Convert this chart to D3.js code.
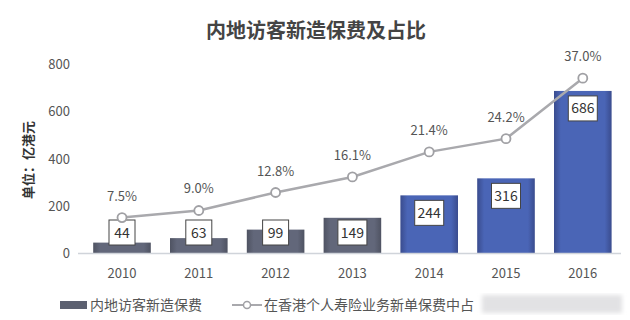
<!DOCTYPE html>
<html>
<head>
	<meta charset="utf-8"/>
	<script src="https://d3js.org/d3.v7.min.js"></script>
	<style>
		body{margin:0;background:#fff;}
		svg{display:block;font-family:"Noto Sans CJK SC","Noto Sans",sans-serif;}
	</style>
</head>
<body>
<script>
	// data
	var years = ["2010","2011","2012","2013","2014","2015","2016"];
	var premium = [44,63,99,149,244,316,686];          // 亿港元
	var share = [7.5,9.0,12.8,16.1,21.4,24.2,37.0];     // %
	var yTicks = [0,200,400,600,800];
	var blueFrom = "2014";

	var W=630,H=320;
	var svg=d3.select('body').append('svg')
		.attr('width',W)
		.attr('height',H);

	var defs=svg.append('defs');
	function grad(id,edge,mid){
		var g=defs.append('linearGradient').attr('id',id)
			.attr('x1','0%').attr('x2','100%').attr('y1','0%').attr('y2','0%');
		g.append('stop').attr('offset','0%').attr('stop-color',edge);
		g.append('stop').attr('offset','12%').attr('stop-color',mid);
		g.append('stop').attr('offset','88%').attr('stop-color',mid);
		g.append('stop').attr('offset','100%').attr('stop-color',edge);
	}
	grad('gGray','#4f5362','#62677a');
	grad('gBlue','#3a4c8e','#4a65b6');
	defs.append('filter').attr('id','blur')
		.append('feGaussianBlur').attr('stdDeviation',2);

	var x=d3.scaleBand().domain(years).range([83.6,621.2])
		.paddingInner(0.25).paddingOuter(0.125);
	var y=d3.scaleLinear().domain([0,800]).range([253,64]);
	var yr=d3.scaleLinear().domain([0,40]).range([253,64]);

	// title
	svg.append('text').attr('x',316).attr('y',38)
		.attr('text-anchor','middle')
		.attr('font-size',20).attr('font-weight','bold')
		.attr('fill','#444')
		.text('内地访客新造保费及占比');

	// y axis labels
	svg.selectAll('.ytick').data(yTicks).enter().append('text')
		.attr('class','ytick')
		.attr('x',70).attr('y',function(d){return y(d)+5;})
		.attr('text-anchor','end')
		.attr('font-size',13).attr('fill','#555')
		.text(function(d){return d;});

	svg.append('text')
		.attr('transform','translate(33,160) rotate(-90)')
		.attr('text-anchor','middle')
		.attr('font-size',13).attr('font-weight','bold').attr('fill','#333')
		.text('单位：亿港元');

	// bars
	svg.selectAll('rect.bar').data(premium).enter().append('rect')
		.attr('class','bar')
		.attr('x',function(d,i){return x(years[i]);})
		.attr('y',function(d){return y(d);})
		.attr('width',x.bandwidth())
		.attr('height',function(d){return y(0)-y(d);})
		.attr('fill',function(d,i){return years[i]>=blueFrom?'url(#gBlue)':'url(#gGray)';});

	// baseline
	svg.append('line').attr('x1',78).attr('x2',621)
		.attr('y1',y(0)+0.5).attr('y2',y(0)+0.5)
		.attr('stroke','#d0d4da').attr('stroke-width',1.5);

	// value boxes
	var boxes=svg.selectAll('g.vbox').data(premium).enter().append('g')
		.attr('class','vbox')
		.attr('transform',function(d,i){
			var w=String(d).length>2?29:26;
			var by=Math.min(y(d)+5,220);
			return 'translate('+(x(years[i])+x.bandwidth()/2-w/2)+','+by+')';
		});
	boxes.append('rect')
		.attr('width',function(d){return String(d).length>2?29:26;})
		.attr('height',25)
		.attr('fill','#fff').attr('stroke','#444').attr('stroke-width',1);
	boxes.append('text')
		.attr('x',function(d){return (String(d).length>2?29:26)/2;})
		.attr('y',17.5)
		.attr('text-anchor','middle')
		.attr('font-size',14).attr('fill','#333')
		.text(function(d){return d;});

	// share line
	var cx=function(d,i){return x(years[i])+x.bandwidth()/2;};
	var line=d3.line().x(cx).y(function(d){return yr(d);});
	svg.append('path').datum(share)
		.attr('d',line).attr('fill','none')
		.attr('stroke','#a9a9ad').attr('stroke-width',2.5);
	svg.selectAll('circle.pt').data(share).enter().append('circle')
		.attr('class','pt')
		.attr('cx',cx).attr('cy',function(d){return yr(d);})
		.attr('r',4.5).attr('fill','#fff')
		.attr('stroke','#a0a0a4').attr('stroke-width',1.8);
	svg.selectAll('text.pct').data(share).enter().append('text')
		.attr('class','pct')
		.attr('x',cx).attr('y',function(d){return yr(d)-17;})
		.attr('text-anchor','middle')
		.attr('font-size',13).attr('fill','#555')
		.text(function(d){return d.toFixed(1)+'%';});

	// x labels
	svg.selectAll('text.xl').data(years).enter().append('text')
		.attr('class','xl')
		.attr('x',function(d){return x(d)+x.bandwidth()/2;})
		.attr('y',278)
		.attr('text-anchor','middle')
		.attr('font-size',13).attr('fill','#555')
		.text(function(d){return d;});

	// legend
	var lg=svg.append('g').attr('transform','translate(0,305)');
	lg.append('rect').attr('x',60).attr('y',-4).attr('width',27).attr('height',8).attr('fill','#5c6070');
	lg.append('text').attr('x',90).attr('y',5).attr('font-size',14).attr('fill','#555')
		.text('内地访客新造保费');
	lg.append('line').attr('x1',232).attr('x2',262).attr('y1',0).attr('y2',0)
		.attr('stroke','#a9a9ad').attr('stroke-width',2);
	lg.append('circle').attr('cx',247).attr('cy',0).attr('r',3.5)
		.attr('fill','#fff').attr('stroke','#a0a0a4').attr('stroke-width',1.5);
	lg.append('text').attr('x',264).attr('y',5).attr('font-size',14).attr('fill','#555')
		.text('在香港个人寿险业务新单保费中占');
	// blurred watermark strip
	lg.append('rect').attr('x',482).attr('y',-10).attr('width',140).attr('height',18)
		.attr('fill','#e2e2e4').attr('filter','url(#blur)');
</script>
</body>
</html>
